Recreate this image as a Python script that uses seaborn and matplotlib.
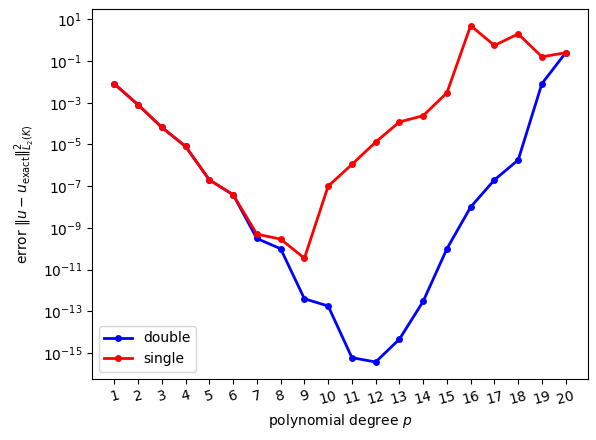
import numpy as np
import pandas as pd
import seaborn as sns
import matplotlib
matplotlib.use("Agg")
import matplotlib.pyplot as plt

# polynomial degrees and errors
degrees = list(range(1, 21))
err_double = [8e-3, 8e-4, 6.6e-5, 8e-6, 2e-7, 3.9e-8, 3.1e-10, 1e-10, 4e-13, 1.8e-13,
              6e-16, 3.7e-16, 4.6e-15, 3e-13, 1e-10, 1e-8, 2e-7, 1.8e-6, 8.3e-3, 0.25]
err_single = [8e-3, 8e-4, 6.6e-5, 8e-6, 2e-7, 3.9e-8, 5e-10, 2.9e-10, 3.5e-11, 1e-7,
              1.1e-6, 1.3e-5, 1.2e-4, 2.4e-4, 3e-3, 5.0, 0.56, 2.0, 0.16, 0.25]
precisions = ["double", "single"]
colors = {"double": "blue", "single": "red"}


def tidy_data():
    df = pd.DataFrame({
        "p": degrees * 2,
        "error": err_double + err_single,
        "precision": ["double"] * len(degrees) + ["single"] * len(degrees),
    })
    return df


df = tidy_data()

fig, ax = plt.subplots(figsize=(5.96, 4.4), dpi=100)
fig.subplots_adjust(left=0.154, right=0.987, top=0.98, bottom=0.139)

sns.lineplot(data=df, x="p", y="error", hue="precision", hue_order=precisions,
             palette=colors, marker="o", markersize=5, markeredgewidth=0,
             linewidth=2, ax=ax)
ax.set_yscale("log")
ax.set_yticks([10.0 ** k for k in range(-15, 2, 2)])
ax.minorticks_off()
ax.set_xticks(degrees)
ax.set_xticklabels([str(d) for d in degrees], rotation=15)
ax.set_xlabel("polynomial degree $p$")
ax.set_ylabel(r"error $\|u - u_{\rm exact}\|^2_{L_2(K)}$")
sns.move_legend(ax, "lower left", title=None)

plt.savefig("out.png")
